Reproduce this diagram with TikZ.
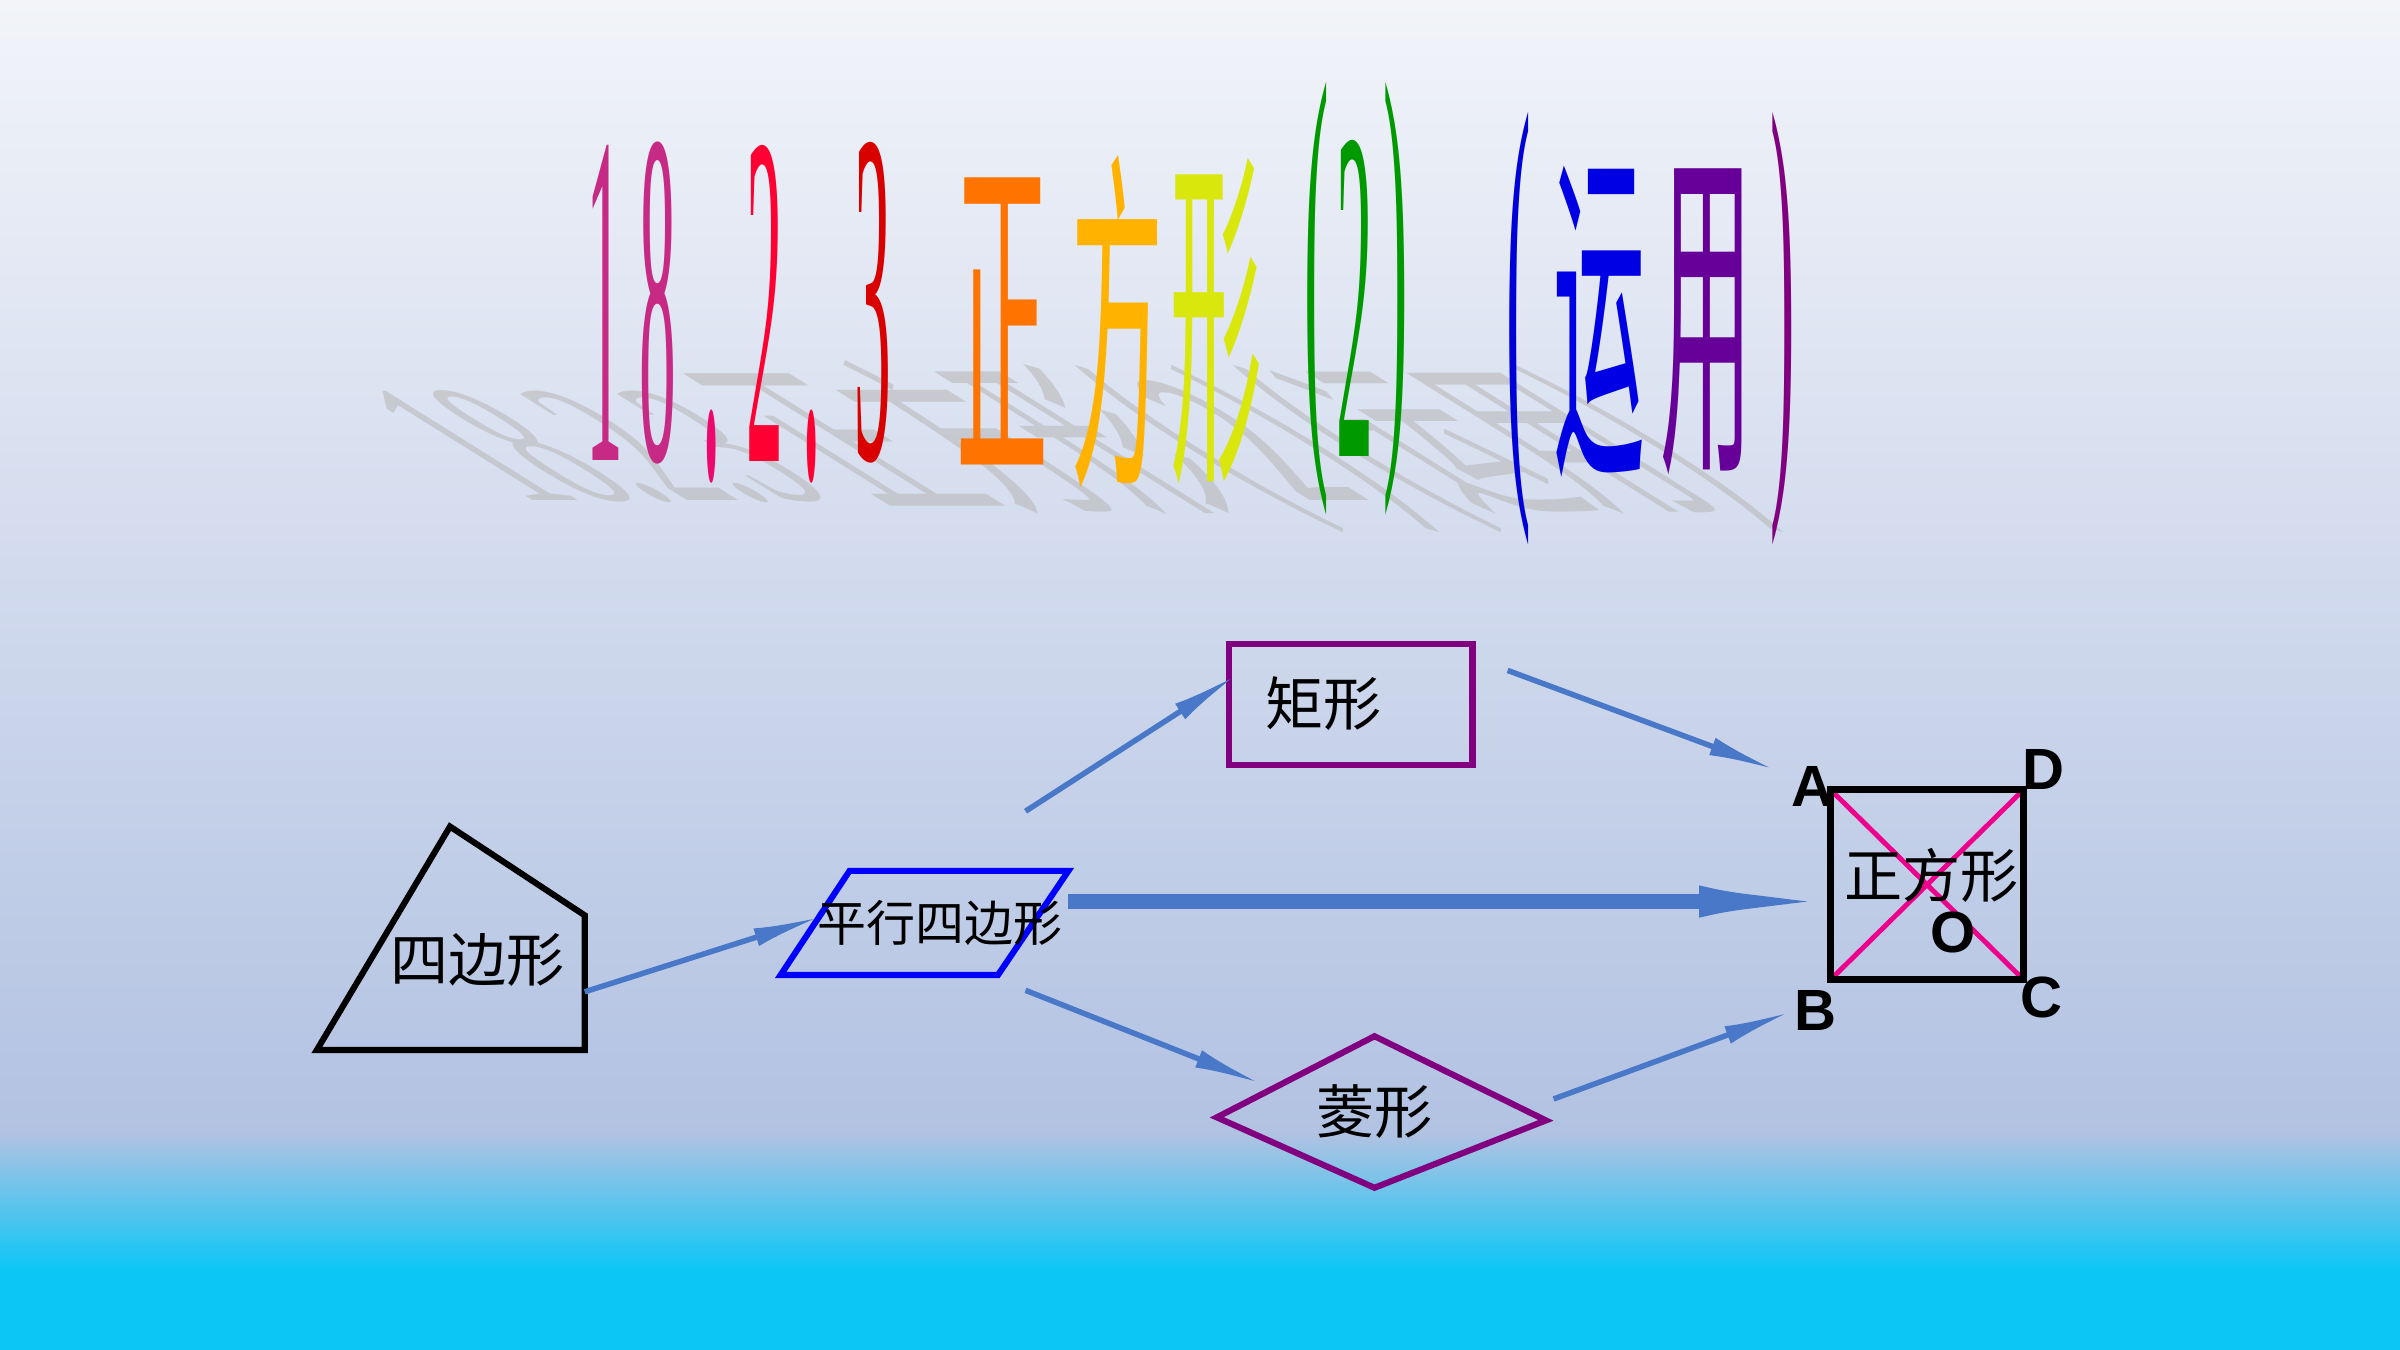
\documentclass[tikz,border=0pt]{standalone}
\usepackage{fontspec}
\setmainfont{Liberation Serif}
\newfontfamily\cjk{Noto Sans CJK SC}
\newfontfamily\lab{Liberation Sans}
\usetikzlibrary{arrows.meta}
\definecolor{topbg}{HTML}{F2F4F9}
\definecolor{midbg}{HTML}{B2C2E2}
\definecolor{botbg}{HTML}{0CC6F6}
\definecolor{shapepurple}{HTML}{800080}
\definecolor{arrowblue}{HTML}{4A78C8}
\tikzset{
  lbl/.style={font=\cjk\fontsize{19pt}{19pt}\selectfont},
  pt/.style={font=\lab\bfseries\fontsize{19pt}{19pt}\selectfont},
  arr/.style={draw=arrowblue, line width=1.8pt, -{Latex[length=22pt,width=6pt,fill=arrowblue]}},
  ttl/.style={font=\cjk\fontsize{30pt}{30pt}\selectfont, yscale=3.9, inner sep=0pt},
  dig/.style={font=\fontsize{30pt}{30pt}\selectfont, yscale=5.2, xscale=0.8, inner sep=0pt}
}
\begin{document}
\begin{tikzpicture}[x=0.5pt,y=-0.5pt]
    \shade [top color=topbg, bottom color=midbg](0,0) rectangle (1568,740);
    \shade [top color=midbg, bottom color=botbg](0,740) rectangle (1568,830);
    \fill [botbg](0,830) rectangle (1568,882);
    \useasboundingbox (0,0) rectangle (1568,882);

    % shadow of the title
    \node[font=\fontsize{30pt}{30pt}\selectfont, text=gray!55, opacity=.6, xslant=-1.6, yscale=1.8, xscale=1.4] (shadow) at (690,292) {18.2.3 \cjk 正方形(2)(运用)};

    % title
    \node[dig, text=magenta!80!black] (t1) at (395,198) {1};
    \node[dig, text=magenta!80!black] (t2) at (430,198) {8};
    \node[dig, text=magenta!70!red, yscale=1.3] (t3) at (465,292) {.};
    \node[dig, text=red!80!magenta] (t4) at (500,198) {2};
    \node[dig, text=red!80!magenta, yscale=1.3] (t5) at (530,292) {.};
    \node[dig, text=red!85!black] (t6) at (570,198) {3};
    \node[ttl, text=orange!90!red] (z1) at (655,210) {正};
    \node[ttl, text=orange!60!yellow] (z2) at (730,210) {方};
    \node[ttl, text=yellow!85!green] (z3) at (795,210) {形};
    \node[dig, text=green!60!black] (p1) at (860,195) {(};
    \node[dig, text=green!60!black] (p2) at (885,195) {2};
    \node[dig, text=green!60!black] (p3) at (912,195) {)};
    \node[dig, text=blue!85!black] (p4) at (992,215) {(};
    \node[ttl, text=blue!90!black] (z4) at (1045,210) {运};
    \node[ttl, text=violet!80!blue] (z5) at (1115,210) {用};
    \node[dig, text=violet] (p5) at (1165,215) {)};

    % shapes
    \draw [line width=2pt] (207,686) -- (294,540) -- (382,598) -- (382,686) -- cycle;
    \node[lbl] (quad) at (312,627) {四边形};
    \draw [blue, line width=2pt] (510,637) -- (555,569) -- (698,569) -- (652,637) -- cycle;
    \node[lbl, font=\cjk\fontsize{16pt}{16pt}\selectfont] (para) at (614,603) {平行四边形};
    \draw [shapepurple, line width=2pt] (803,421) rectangle (962,500);
    \node[lbl] (rect) at (865,460) {矩形};
    \draw [shapepurple, line width=2pt] (795,730) -- (898,677) -- (1010,732) -- (898,776) -- cycle;
    \node[lbl] (rhom) at (898,726) {菱形};

    % square
    \coordinate (A) at (1196,516);
    \coordinate (D) at (1322,516);
    \coordinate (C) at (1322,640);
    \coordinate (B) at (1196,640);
    \draw [magenta, line width=1.6pt] (A) -- (C) (D) -- (B);
    \draw [line width=2.2pt] (A) -- (D) -- (C) -- (B) -- cycle;
    \node[lbl] (sq) at (1262,572) {正方形};
    \node[pt] (la) at (1184,514) {A};
    \node[pt] (ld) at (1335,503) {D};
    \node[pt] (lb) at (1186,660) {B};
    \node[pt] (lc) at (1334,652) {C};
    \node[pt] (lo) at (1276,609) {O};

    % arrows
    \coordinate (a1s) at (382,648); \coordinate (a1e) at (536,599);
    \coordinate (a2s) at (670,530); \coordinate (a2e) at (808,441);
    \coordinate (a3s) at (985,438); \coordinate (a3e) at (1160,503);
    \coordinate (a4s) at (670,647); \coordinate (a4e) at (824,708);
    \coordinate (a5s) at (1015,718); \coordinate (a5e) at (1170,661);
    \coordinate (a6s) at (698,589); \coordinate (a6e) at (1230,589);
    \draw [arr] (a1s) -- (a1e);
    \draw [arr] (a2s) -- (a2e);
    \draw [arr] (a3s) -- (a3e);
    \draw [arr] (a4s) -- (a4e);
    \draw [arr] (a5s) -- (a5e);
    \draw [arr, line width=5pt, -{Latex[length=60pt,width=10pt,fill=arrowblue]}] (a6s) -- (a6e);
\end{tikzpicture}
\end{document}
